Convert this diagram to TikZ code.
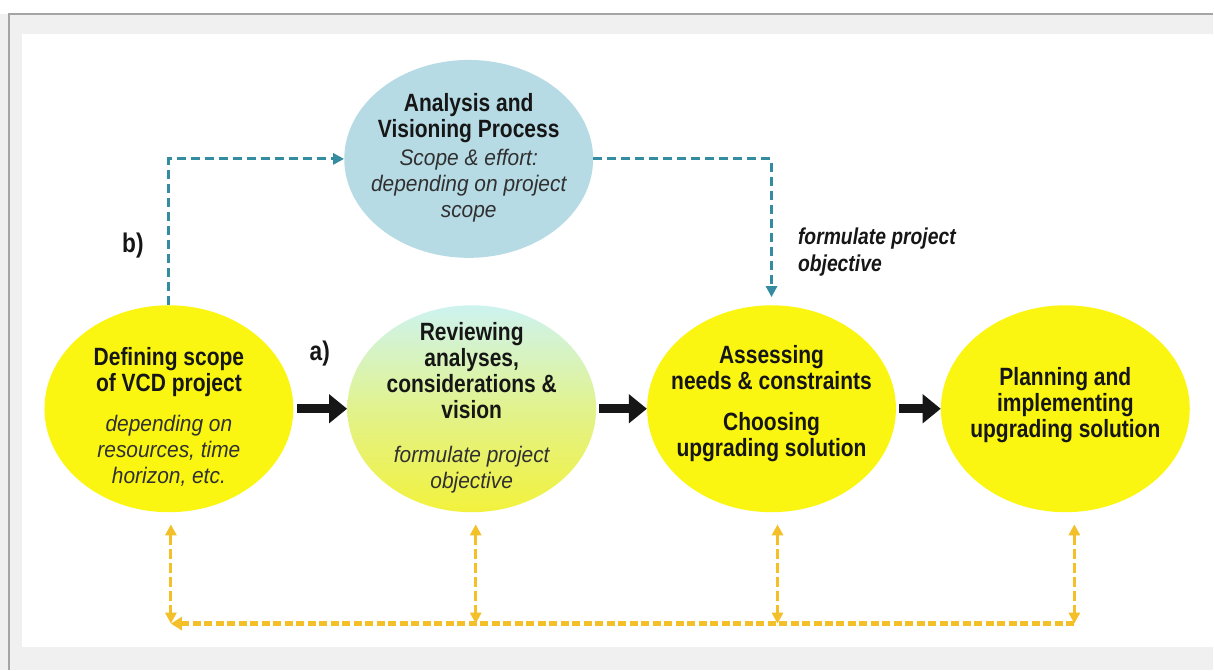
\documentclass[tikz,border=0pt]{standalone}
\usepackage{fontspec}
\setmainfont{Liberation Sans}
\newfontfamily\narrowfont{Liberation Sans}[FakeStretch=0.84]
\newfontfamily\slimfont{Liberation Sans}[FakeStretch=0.93]
\usepackage{xcolor}
\usepackage{tikz}
\usetikzlibrary{positioning, arrows.meta, shapes.geometric}

\definecolor{stageyellow}{RGB}{250,246,18}
\definecolor{analysisblue}{RGB}{182,219,229}
\definecolor{reviewtop}{RGB}{205,243,240}
\definecolor{reviewbottom}{RGB}{242,242,60}
\definecolor{pathteal}{RGB}{52,140,160}
\definecolor{syncgold}{RGB}{243,192,42}
\definecolor{inkdark}{RGB}{22,22,22}
\definecolor{inkgrey}{RGB}{48,48,48}
\definecolor{pagegrey}{RGB}{240,240,240}
\definecolor{framegrey}{RGB}{165,165,165}

\newcommand{\headfont}{\narrowfont\bfseries\fontsize{25}{26}\selectfont}
\newcommand{\notefont}{\slimfont\mdseries\itshape\fontsize{22.5}{26}\selectfont}
\newcommand{\noteline}[1]{{\notefont\color{inkgrey}#1}}

\begin{document}
\begin{tikzpicture}[x=1pt, y=-1pt,
    stage/.style={ellipse, fill=stageyellow, inner sep=0pt,
                  minimum width=249pt, minimum height=207pt},
    stagetext/.style={align=center, inner sep=0pt, text=inkdark,
                      font=\headfont},
    flow/.style={line width=9pt, inkdark,
                 -{Triangle[length=18pt, width=28pt]}},
    bpath/.style={pathteal, line width=3.2pt,
                  dash pattern=on 9pt off 5pt,
                  -{Triangle[length=11pt, width=11pt]}},
    sync/.style={syncgold, line width=3.2pt,
                 dash pattern=on 10pt off 4pt,
                 {Triangle[length=11pt, width=11pt]}-{Triangle[length=11pt, width=11pt]}},
    syncbus/.style={syncgold, line width=5pt,
                    dash pattern=on 8pt off 3.5pt,
                    -{Triangle[length=11pt, width=13pt]}},
    tag/.style={font=\narrowfont\bfseries\fontsize{27}{28}\selectfont,
                text=inkdark}]

  %% ── Page frame ─────────────────────────────────────────────
  \fill[pagegrey] (0,0) rectangle (1214,670);
  \fill[white] (0,0) rectangle (1214,14);
  \draw[framegrey, line width=1.5pt] (9,670) -- (9,14) -- (1214,14);
  \fill[white] (22,34) rectangle (1214,647);
  \useasboundingbox (0,0) rectangle (1214,670);

  %% ── Stages ─────────────────────────────────────────────────
  \def\yrow{409}

  % Stage 1: defining scope
  \node[stage] (defscope) at (169,\yrow) {};
  \node[stagetext] (defscope-t) at (169,417)
    {Defining scope\\ of VCD project\\[14pt]
     \noteline{depending on}\\ \noteline{resources, time}\\
     \noteline{horizon, etc.}};

  % Stage 2: reviewing (shaded)
  \node[stage, fill=none, top color=reviewtop, bottom color=reviewbottom,
        middle color=reviewbottom!55!reviewtop] (review) at (472,\yrow) {};
  \node[stagetext] (review-t) at (472,408)
    {Reviewing\\ analyses,\\ considerations \&\\ vision\\[18pt]
     \noteline{formulate project}\\ \noteline{objective}};

  % Stage 3: assessing
  \node[stage] (assess) at (772,\yrow) {};
  \node[stagetext] (assess-t) at (772,404)
    {Assessing\\ needs \& constraints\\[15pt] Choosing\\ upgrading solution};

  % Stage 4: planning
  \node[stage] (plan) at (1066,\yrow) {};
  \node[stagetext] (plan-t) at (1066,405)
    {Planning and\\ implementing\\ upgrading solution};

  %% ── Analysis and visioning (path b) ────────────────────────
  \node[stage, fill=analysisblue, minimum height=198pt] (analysis) at (469,159) {};
  \node[stagetext] (analysis-t) at (469,158)
    {Analysis and\\ Visioning Process\\[2pt]
     \noteline{Scope \& effort:}\\ \noteline{depending on project}\\
     \noteline{scope}};

  %% ── Labels ─────────────────────────────────────────────────
  \node[tag] (tag-b) at (133,246) {b)};
  \node[tag] (tag-a) at (320,354) {a)};
  \node[font=\narrowfont\bfseries\itshape\fontsize{23}{27}\selectfont,
        text=inkdark, align=left, anchor=west] (objective) at (795,252)
    {formulate project\\ objective};

  %% ── Main flow (path a) ─────────────────────────────────────
  \draw[flow, shorten <=3pt] (defscope.east) -- (review.west);
  \draw[flow, shorten <=3pt] (review.east) -- (assess.west);
  \draw[flow, shorten <=3pt] (assess.east) -- (plan.west);

  %% ── Detour through analysis (path b) ───────────────────────
  \draw[bpath] (defscope.north) |- (analysis.west);
  \draw[bpath, shorten >=8pt] (analysis.east) -| (assess.north);

  %% ── Feedback bus ───────────────────────────────────────────
  \coordinate (bus) at (0,624);
  \coordinate (foot1) at ([xshift=2pt]defscope.south |- bus);
  \coordinate (foot2) at ([xshift=4pt]review.south |- bus);
  \coordinate (foot3) at ([xshift=6pt]assess.south |- bus);
  \coordinate (foot4) at ([xshift=9pt]plan.south |- bus);

  \draw[sync] ([xshift=2pt, yshift=-12pt]defscope.south) -- (foot1);
  \draw[sync] ([xshift=4pt, yshift=-12pt]review.south) -- (foot2);
  \draw[sync] ([xshift=6pt, yshift=-12pt]assess.south) -- (foot3);
  \draw[sync] ([xshift=9pt, yshift=-12pt]plan.south) -- (foot4);
  \draw[syncbus] (foot4) -- (foot1);

\end{tikzpicture}
\end{document}
